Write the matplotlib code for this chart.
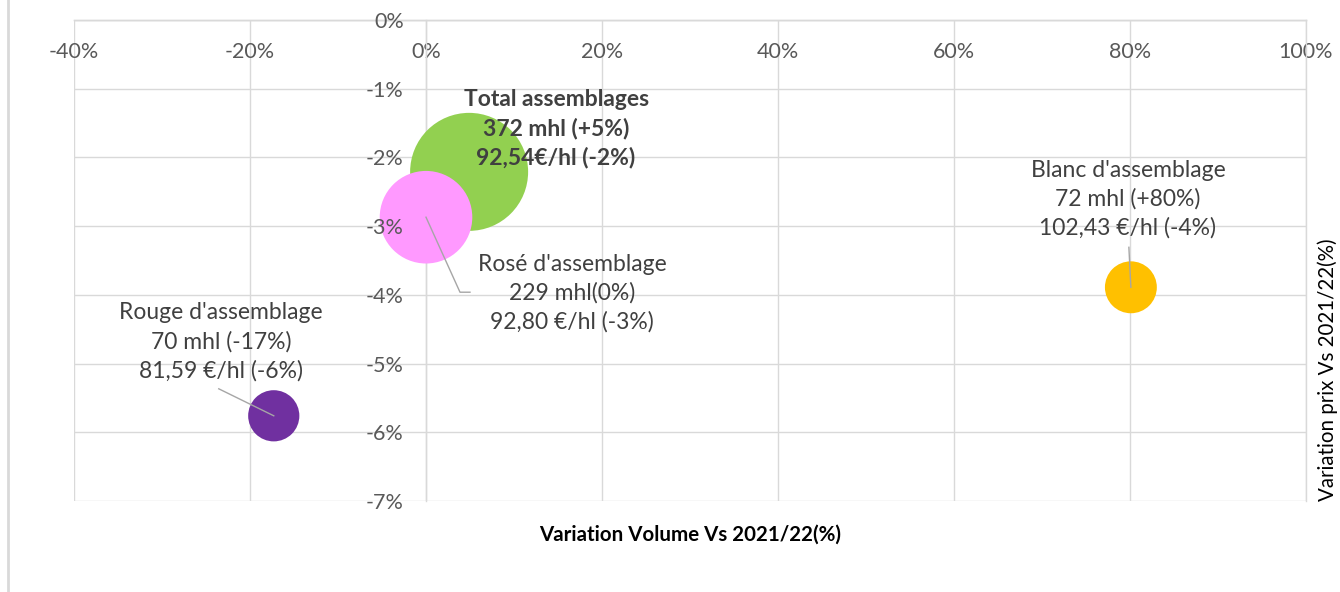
import matplotlib
matplotlib.use("Agg")
import matplotlib.pyplot as plt
import numpy as np
from matplotlib.lines import Line2D
from matplotlib.ticker import FuncFormatter

plt.rcParams['font.family'] = ['Lato', 'DejaVu Sans']

# ---- data ----
categories = ["Total assemblages", "Rosé d'assemblage", "Blanc d'assemblage", "Rouge d'assemblage"]
volume_var = [4.9, 0.0, 80.1, -17.3]          # % variation volume vs 2021/22
price_var = [-2.21, -2.87, -3.89, -5.76]      # % variation prix vs 2021/22
volumes_mhl = [372, 229, 72, 70]
label_lines = [
    "Total assemblages\n372 mhl (+5%)\n92,54€/hl (-2%)",
    "Rosé d'assemblage\n229 mhl(0%)\n92,80 €/hl (-3%)",
    "Blanc d'assemblage\n72 mhl (+80%)\n102,43 €/hl (-4%)",
    "Rouge d'assemblage\n70 mhl (-17%)\n81,59 €/hl (-6%)",
]
x_ticks = [-40, -20, 0, 20, 40, 60, 80, 100]
y_ticks = [0, -1, -2, -3, -4, -5, -6, -7]

# ---- style ----
colors = ["#92d050", "#ff99ff", "#ffc000", "#7030a0"]
bold = [True, False, False, False]
label_offsets = [(87, 43), (146, -76), (-3, 88), (-53, 74)]   # pixels from bubble centre (x right, y up)
leaders = [None, [(0, 0), (34, -75), (44, -75)], [(0, 0), (-2, 40)], [(0, 0), (-55, 27)]]
grid_c = "#d9d9d9"
text_c = "#595959"

W, H, DPI = 13.4, 5.92, 100
fig = plt.figure(figsize=(W, H), dpi=DPI)
ax = fig.add_axes([74/1340, (592-501)/592, (1306-74)/1340, (501-20)/592])

ax.set_xlim(-40, 100)
ax.set_ylim(-7, 0)
ax.set_xticks(x_ticks)
ax.set_yticks(y_ticks)
ax.xaxis.set_major_formatter(FuncFormatter(lambda v, p: f"{v:.0f}%"))
ax.yaxis.set_major_formatter(FuncFormatter(lambda v, p: f"{v:.0f}%"))
ax.xaxis.grid(True, color=grid_c, lw=1.0, zorder=0.5)
for yv in y_ticks:
    ax.axhline(yv, color=grid_c, lw=1.0, zorder=0.5)
ax.set_axisbelow(True)
ax.yaxis.set_zorder(10)
for s in ax.spines.values():
    s.set_color(grid_c)
    s.set_linewidth(1.0)
ax.spines['left'].set_position(('data', 0))
ax.spines['bottom'].set_position(('data', 0))
ax.spines['left'].set_zorder(0.6)
ax.tick_params(axis='both', length=0, labelsize=15.5, colors=text_c)
ax.tick_params(axis='x', pad=16)
ax.tick_params(axis='y', pad=16)

k = (2 * 59 * 72 / DPI) ** 2 / 372
for i in range(len(categories)):
    ax.scatter([volume_var[i]], [price_var[i]], s=k * volumes_mhl[i], color=colors[i],
               edgecolor='none', zorder=3 + i)

fig.canvas.draw()
for i in range(len(categories)):
    cx, cy = ax.transData.transform((volume_var[i], price_var[i]))
    dx, dy = label_offsets[i]
    fig.text((cx + dx) / (W * DPI), (cy + dy) / (H * DPI), label_lines[i], ha='center', va='center',
             fontsize=16.5, linespacing=1.42, color="#404040",
             fontweight='bold' if bold[i] else 'normal', zorder=10)
    if leaders[i]:
        xs = [(cx + a) / (W * DPI) for a, b in leaders[i]]
        ys = [(cy + b) / (H * DPI) for a, b in leaders[i]]
        fig.add_artist(Line2D(xs, ys, color="#a6a6a6", lw=1.0, zorder=20))

fig.text(690/1340, 1 - 535/592, "Variation Volume Vs 2021/22(%)", ha='center', va='center',
         fontsize=14.8, fontweight='bold', color='black')
fig.text(1328/1340, 1 - 370/592, "Variation prix Vs 2021/22(%)", ha='center', va='center',
         rotation=90, fontsize=14.8, color='black')
fig.add_artist(Line2D([8/1340, 8/1340], [0, 1], color="#d9d9d9", lw=2))

fig.savefig("out.png", dpi=DPI)
